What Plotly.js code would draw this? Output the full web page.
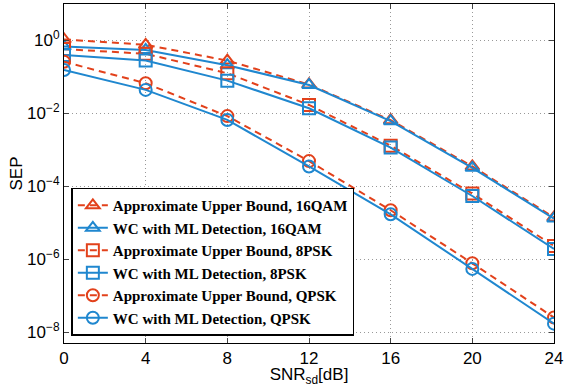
<!DOCTYPE html>
<html>
<head>
<meta charset="utf-8">
<script src="https://cdn.plot.ly/plotly-3.0.1.min.js"></script>
<style>html,body{margin:0;padding:0;background:#fff;}#chart{width:566px;height:387px;}</style>
</head>
<body>
<div id="chart"></div>
<script>
const snr = [0, 4, 8, 12, 16, 20, 24];

const ub16qam = [1.07, 0.76, 0.28, 0.062, 6.5e-3, 3.5e-4, 1.4e-5];
const ml16qam = [0.68, 0.55, 0.21, 0.06, 6.1e-3, 3.2e-4, 1.3e-5];
const ub8psk  = [0.58, 0.43, 0.126, 0.017, 1.3e-3, 6.3e-5, 2.3e-6];
const ml8psk  = [0.40, 0.28, 0.079, 0.0138, 1.15e-3, 5.4e-5, 1.9e-6];
const ubqpsk  = [0.26, 0.067, 8.4e-3, 4.9e-4, 2.2e-5, 7.7e-7, 2.5e-8];
const mlqpsk  = [0.155, 0.044, 6.6e-3, 3.5e-4, 1.7e-5, 5.4e-7, 1.7e-8];

const names = [
  "Approximate Upper Bound, 16QAM",
  "WC with ML Detection, 16QAM",
  "Approximate Upper Bound, 8PSK",
  "WC with ML Detection, 8PSK",
  "Approximate Upper Bound, QPSK",
  "WC with ML Detection, QPSK"
];

const xTickVals = [0, 4, 8, 12, 16, 20, 24];
const yTickVals = [1, 1e-2, 1e-4, 1e-6, 1e-8];
const yTickText = ["10<sup>0</sup>", "10<sup>−2</sup>", "10<sup>−4</sup>", "10<sup>−6</sup>", "10<sup>−8</sup>"];

const RED = "#e2411b";
const BLUE = "#1f87cf";

function tr(y, name, isUB, sym) {
  const c = isUB ? RED : BLUE;
  return {
    x: snr, y: y, name: name, type: "scatter", mode: "lines+markers",
    line: {color: c, width: 2, dash: isUB ? "7px,5px" : "solid"},
    marker: {symbol: sym, size: 12, color: c, line: {color: c, width: 2}}
  };
}

const data = [
  tr(ub16qam, names[0], true, "triangle-up-open"),
  tr(ml16qam, names[1], false, "triangle-up-open"),
  tr(ub8psk, names[2], true, "square-open"),
  tr(ml8psk, names[3], false, "square-open"),
  tr(ubqpsk, names[4], true, "circle-open"),
  tr(mlqpsk, names[5], false, "circle-open")
];

const axFont = {family: "Liberation Sans, Arial, sans-serif", size: 17, color: "#000"};

const layout = {
  width: 566, height: 387,
  margin: {l: 64, r: 12, t: 4, b: 44},
  paper_bgcolor: "#fff", plot_bgcolor: "#fff",
  showlegend: true,
  xaxis: {
    range: [0, 24], tickvals: xTickVals, ticks: "inside", ticklen: 5,
    showline: true, linecolor: "#000", linewidth: 1, mirror: "ticks",
    showgrid: true, gridcolor: "#999", griddash: "1px,3px", gridwidth: 1,
    zeroline: false, tickfont: axFont,
    title: {text: "SNR<sub>sd</sub>[dB]", font: axFont, standoff: 0}
  },
  yaxis: {
    type: "log", range: [-8.3, 1], tickvals: yTickVals, ticktext: yTickText,
    ticks: "inside", ticklen: 5,
    showline: true, linecolor: "#000", linewidth: 1, mirror: "ticks",
    showgrid: true, gridcolor: "#999", griddash: "1px,3px", gridwidth: 1,
    zeroline: false, tickfont: axFont,
    title: {text: "SEP", font: axFont, standoff: 0}
  },
  legend: {
    x: 0.015, y: 0.022, xanchor: "left", yanchor: "bottom",
    bgcolor: "#fff", bordercolor: "#000", borderwidth: 1.5,
    font: {family: "Liberation Serif, DejaVu Serif, serif", size: 15, color: "#000", weight: "bold"},
    tracegroupgap: 0
  }
};

Plotly.newPlot("chart", data, layout, {displayModeBar: false, staticPlot: true});
</script>
</body>
</html>
